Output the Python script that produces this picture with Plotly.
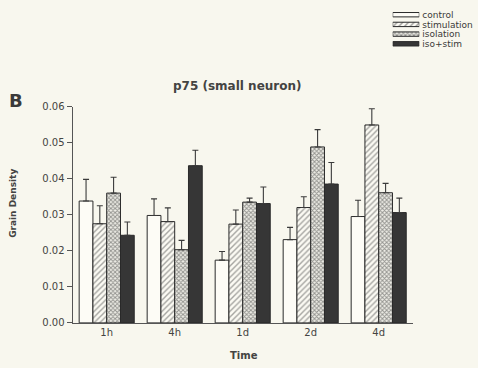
import plotly.graph_objects as go

# Grain density of p75 in small neurons, by time point and condition
times = ["1h", "4h", "1d", "2d", "4d"]
groups = ["control", "stimulation", "isolation", "iso+stim"]

control = [0.0338, 0.0298, 0.0174, 0.0231, 0.0295]
control_err = [0.0060, 0.0046, 0.0024, 0.0034, 0.0045]
stimulation = [0.0275, 0.0281, 0.0274, 0.0320, 0.0549]
stimulation_err = [0.0050, 0.0038, 0.0039, 0.0030, 0.0045]
isolation = [0.0360, 0.0203, 0.0335, 0.0488, 0.0361]
isolation_err = [0.0044, 0.0026, 0.0011, 0.0048, 0.0026]
iso_stim = [0.0243, 0.0436, 0.0331, 0.0385, 0.0306]
iso_stim_err = [0.0037, 0.0043, 0.0046, 0.0060, 0.0040]

y_ticks = [0.00, 0.01, 0.02, 0.03, 0.04, 0.05, 0.06]

BG = "#f8f7ee"
INK = "#444442"
FONT = "DejaVu Sans"

styles = {
    "control": dict(color="#fdfcf6", shape="", fg="#555555", size=4, solidity=0.3),
    "stimulation": dict(color="#fbfaf3", shape="/", fg="#505050", size=4, solidity=0.35),
    "isolation": dict(color="#eeede6", shape="x", fg="#3c3c3c", size=3, solidity=0.55),
    "iso+stim": dict(color="#363636", shape="", fg="#555555", size=4, solidity=0.3),
}

series = [
    ("control", control, control_err),
    ("stimulation", stimulation, stimulation_err),
    ("isolation", isolation, isolation_err),
    ("iso+stim", iso_stim, iso_stim_err),
]

fig = go.Figure()
for name, vals, errs in series:
    st = styles[name]
    fig.add_trace(go.Bar(
        x=times, y=vals, name=name,
        marker=dict(color=st["color"],
                    pattern=dict(shape=st["shape"], fgcolor=st["fg"],
                                 size=st["size"], solidity=st["solidity"]),
                    line=dict(color="#2a2a2a", width=1)),
        error_y=dict(type="data", array=errs, arrayminus=[0] * len(errs),
                     symmetric=False, color="#3a3a3a", thickness=1.1, width=3),
        showlegend=False,
        xaxis="x", yaxis="y",
    ))

# Key: one swatch per condition, drawn as short horizontal bars on a small axis
fig.add_trace(go.Bar(
    y=groups, x=[1] * len(groups), orientation="h", width=0.45,
    marker=dict(
        color=[styles[g]["color"] for g in groups],
        pattern=dict(
            shape=[styles[g]["shape"] for g in groups],
            fgcolor=[styles[g]["fg"] for g in groups],
            size=[styles[g]["size"] for g in groups],
            solidity=[styles[g]["solidity"] for g in groups],
        ),
        line=dict(color="#2a2a2a", width=1),
    ),
    showlegend=False, hoverinfo="skip",
    xaxis="x2", yaxis="y2",
))

W, H = 478, 368
x0, x1 = 72.7, 412.7
y_zero, y_top = 327.7, 104.7

fig.update_layout(
    width=W, height=H,
    margin=dict(l=0, r=0, t=0, b=0),
    paper_bgcolor=BG, plot_bgcolor="rgba(0,0,0,0)",
    font=dict(family=FONT, color=INK, size=10),
    barmode="group", bargap=0.19, bargroupgap=0,
    xaxis=dict(
        domain=[x0 / W, x1 / W], anchor="y",
        showline=True, linecolor="#555555", linewidth=1.2,
        ticks="", showgrid=False, zeroline=False,
        tickfont=dict(size=10, color=INK),
    ),
    yaxis=dict(
        domain=[1 - y_zero / H, 1 - y_top / H], anchor="x",
        range=[0, 0.06], tickvals=y_ticks, tickformat=".2f",
        showline=True, linecolor="#555555", linewidth=1.2,
        ticks="outside", ticklen=5, tickcolor="#555555", tickwidth=1.2,
        showgrid=False, zeroline=False,
        tickfont=dict(size=10, color=INK),
    ),
    xaxis2=dict(
        domain=[392.7 / W, 419.3 / W], anchor="y2", range=[0, 1],
        visible=False, fixedrange=True,
    ),
    yaxis2=dict(
        domain=[1 - 45.0 / H, 1 - 5.0 / H], anchor="x2",
        range=[3.5, -0.5], side="right",
        tickmode="array", tickvals=groups, ticktext=groups,
        ticklabelstandoff=2,
        showline=False, showgrid=False, zeroline=False, ticks="",
        tickfont=dict(size=9, color="#3a3a38"),
    ),
    annotations=[
        dict(text="<b>p75 (small neuron)</b>", x=237 / W, y=1 - 84 / H,
             xref="paper", yref="paper", showarrow=False,
             font=dict(size=12, color=INK), xanchor="center", yanchor="middle"),
        dict(text="<b>B</b>", x=15.5 / W, y=1 - 98.5 / H,
             xref="paper", yref="paper", showarrow=False,
             font=dict(size=18, color="#3a3a3a"), xanchor="center", yanchor="middle"),
        dict(text="<b>Time</b>", x=243.5 / W, y=1 - 361.5 / H,
             xref="paper", yref="paper", showarrow=False,
             font=dict(size=10, color=INK), xanchor="center", yanchor="middle"),
        dict(text="<b>Grain Density</b>", x=13 / W, y=1 - 205 / H,
             xref="paper", yref="paper", showarrow=False, textangle=-90,
             font=dict(size=9, color=INK), xanchor="center", yanchor="middle"),
    ],
)

fig.write_html("out.html")
